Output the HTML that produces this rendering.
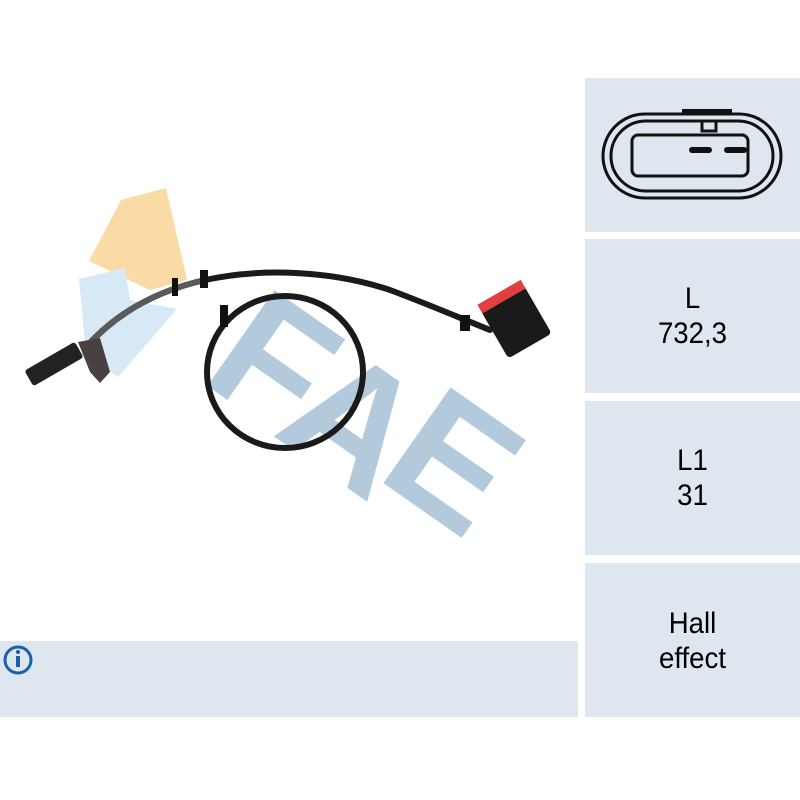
<!DOCTYPE html>
<html><head><style>
body{margin:0;width:800px;height:800px;background:#fff;position:relative;overflow:hidden;font-family:"Liberation Sans",sans-serif}
.p{position:absolute;left:585px;width:215px;background:#dee6ef}
.t{position:absolute;left:585px;width:215px;text-align:center;font-size:30px;line-height:35px;color:#000;transform:scaleX(0.92)}
</style></head><body>
<div class="p" style="top:78px;height:154px"></div>
<div class="p" style="top:239px;height:154px"></div>
<div class="p" style="top:401px;height:154px"></div>
<div class="p" style="top:563px;height:154px"></div>
<div style="position:absolute;left:0;top:641px;width:578px;height:76px;background:#dee6ef"></div>
<div class="t" style="top:281px">L<br>732,3</div>
<div class="t" style="top:443px">L1<br>31</div>
<div class="t" style="top:606px">Hall<br>effect</div>
<svg width="800" height="800" style="position:absolute;left:0;top:0">
<g fill="none" stroke="#111" stroke-width="3">
<rect x="603" y="114" width="178" height="84" rx="42"/>
<rect x="611" y="121" width="162" height="70" rx="35"/>
<rect x="632" y="135" width="116" height="41" rx="6"/>
<rect x="702" y="121" width="14" height="10"/>
</g>
<rect x="682" y="109" width="50" height="4" fill="#111"/>
<g stroke="#111" stroke-width="6" stroke-linecap="round"><line x1="692" y1="150" x2="709" y2="150"/><line x1="727" y1="150" x2="744" y2="150"/></g>
<polygon points="89,261 121,200 166,188 187,280 150,290" fill="#fbdba5"/>
<polygon points="79,279 125,268 130,300 177,309 118,377 86,356" fill="#d6e9f5"/>
<g fill="#b3cadc" font-family="Liberation Sans" font-weight="bold" font-size="170">
<text x="275" y="420" transform="rotate(35 275 360)" text-anchor="middle">F</text>
<text x="355" y="480" transform="rotate(35 355 420)" text-anchor="middle">A</text>
<text x="455" y="520" transform="rotate(35 455 460)" text-anchor="middle">E</text>
</g>
<g fill="none" stroke="#1a1a1a" stroke-width="6" stroke-linecap="round">
<path d="M88,345 C120,310 160,290 205,280 C260,268 330,270 390,290 C430,305 460,318 490,330"/>
<ellipse cx="285" cy="372" rx="78" ry="76"/>
</g>
<path d="M88,345 C120,310 160,290 205,280" fill="none" stroke="#5a5a5a" stroke-width="6"/>
<rect x="25" y="355" width="58" height="18" rx="3" fill="#222" transform="rotate(-30 54 364)"/>
<path d="M78,342 L100,338 L110,372 L100,383 L90,372 Z" fill="#4a4040"/>
<g transform="rotate(-30 515 320)"><rect x="490" y="295" width="50" height="55" rx="4" fill="#1a1a1a"/><rect x="490" y="288" width="50" height="10" fill="#e04040"/></g>
<g fill="#111"><rect x="200" y="270" width="8" height="18"/><rect x="172" y="278" width="6" height="18"/><rect x="460" y="315" width="10" height="16"/><rect x="220" y="305" width="8" height="22"/></g>
<circle cx="18" cy="660" r="13" fill="none" stroke="#1d5fa8" stroke-width="3"/>
<circle cx="18" cy="652" r="2" fill="#1d5fa8"/>
<rect x="16" y="656" width="4" height="11" fill="#1d5fa8"/>
</svg>
</body></html>
